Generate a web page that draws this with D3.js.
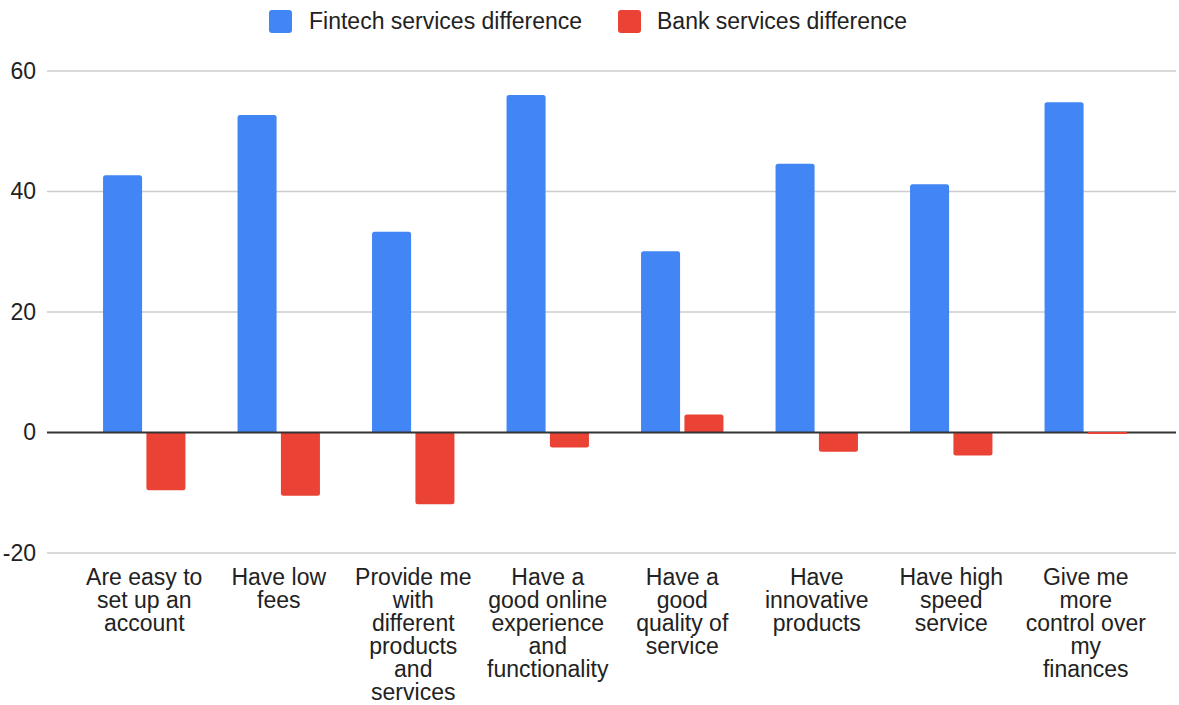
<!DOCTYPE html>
<html>
<head>
<meta charset="utf-8">
<script src="https://cdn.jsdelivr.net/npm/d3@7"></script>
<style>
  html, body { margin: 0; padding: 0; background: #ffffff; }
  svg { display: block; font-family: "Liberation Sans", Arial, Helvetica, sans-serif; }
</style>
</head>
<body>
<svg id="chart" width="1179" height="705"></svg>
<script>
// Survey categories and the two difference series
const categories = [
  "Are easy to set up an account",
  "Have low fees",
  "Provide me with different products and services",
  "Have a good online experience and functionality",
  "Have a good quality of service",
  "Have innovative products",
  "Have high speed service",
  "Give me more control over my finances"
];
const categoryLines = [
  ["Are easy to", "set up an", "account"],
  ["Have low", "fees"],
  ["Provide me", "with", "different", "products", "and", "services"],
  ["Have a", "good online", "experience", "and", "functionality"],
  ["Have a", "good", "quality of", "service"],
  ["Have", "innovative", "products"],
  ["Have high", "speed", "service"],
  ["Give me", "more", "control over", "my", "finances"]
];
const seriesNames = ["Fintech services difference", "Bank services difference"];
const fintechValues = [42.7, 52.7, 33.3, 56.0, 30.1, 44.6, 41.2, 54.8];
const bankValues = [-9.6, -10.5, -11.9, -2.5, 3.0, -3.2, -3.8, -0.2];
const yTicks = [-20, 0, 20, 40, 60];
const seriesColors = ["#4285f4", "#ea4335"];

const FONT = 23;
const svg = d3.select("#chart");
const plotLeft = 47, plotRight = 1176;

const y = d3.scaleLinear().domain([-20, 60]).range([553, 71]);

const x0 = d3.scaleBand().domain(categories).range([77, 1153]).padding(0);
const groupW = 82.4;
const x1 = d3.scaleBand().domain(seriesNames)
  .range([0, groupW]).paddingInner(0.1).paddingOuter(0);

// gridlines
svg.append("g").selectAll("line").data(yTicks.filter(t => t !== 0)).join("line")
  .attr("x1", plotLeft).attr("x2", plotRight)
  .attr("y1", d => y(d)).attr("y2", d => y(d))
  .attr("stroke", "#cccccc").attr("stroke-width", 1.3);

// y tick labels (plain hyphen for negatives)
const yAxis = d3.axisLeft(y).tickValues(yTicks).tickSize(0).tickPadding(0)
  .tickFormat(d => String(d));
const ya = svg.append("g").attr("transform", "translate(36,0)").call(yAxis);
ya.select(".domain").remove();
ya.selectAll("text")
  .attr("font-size", FONT).attr("fill", "#222222")
  .attr("font-family", "\"Liberation Sans\", Arial, sans-serif");

// bars with rounded far end
function barPath(xl, w, v) {
  const y0 = y(0), yv = y(v);
  const h = Math.abs(yv - y0);
  const r = Math.min(2.5, h / 2, w / 2);
  const s = v >= 0 ? 1 : -1;
  return `M${xl},${y0}V${yv + s * r}Q${xl},${yv} ${xl + r},${yv}H${xl + w - r}Q${xl + w},${yv} ${xl + w},${yv + s * r}V${y0}Z`;
}

const rows = categories.map((c, i) => ({ cat: c, vals: [fintechValues[i], bankValues[i]] }));
const groupX = d => x0(d.cat) + x0.bandwidth() / 2 - groupW / 2;
const isFlat = v => Math.abs(y(v) - y(0)) < 1.5;

const groups = svg.append("g").selectAll("g").data(rows).join("g")
  .attr("transform", d => `translate(${groupX(d)},0)`);

groups.selectAll("path").data(d => d.vals.map((v, k) => ({ v, k })).filter(e => !isFlat(e.v)))
  .join("path")
  .attr("d", d => barPath(x1(seriesNames[d.k]), x1.bandwidth(), d.v))
  .attr("fill", d => seriesColors[d.k]);

// baseline at zero
svg.append("line")
  .attr("x1", plotLeft).attr("x2", plotRight)
  .attr("y1", y(0)).attr("y2", y(0))
  .attr("stroke", "#333333").attr("stroke-width", 2);

// near-zero bars drawn as a thin strip over the baseline
const flat = [];
rows.forEach(r => r.vals.forEach((v, k) => { if (isFlat(v)) flat.push({ r, v, k }); }));
svg.append("g").selectAll("rect").data(flat).join("rect")
  .attr("x", d => groupX(d.r) + x1(seriesNames[d.k]))
  .attr("width", x1.bandwidth())
  .attr("y", d => Math.min(y(0), y(d.v)) - 0.5)
  .attr("height", d => Math.max(2, Math.abs(y(d.v) - y(0))))
  .attr("fill", d => seriesColors[d.k]);

// category labels
const labels = svg.append("g").selectAll("text").data(categories).join("text")
  .attr("text-anchor", "middle")
  .attr("font-size", FONT).attr("fill", "#222222")
  .attr("transform", d => `translate(${x0(d) + x0.bandwidth() / 2},585)`);
labels.selectAll("tspan").data((d, i) => categoryLines[i]).join("tspan")
  .attr("x", 0).attr("dy", (d, i) => i === 0 ? 0 : 23)
  .text(d => d);

// legend
const legendItems = [
  { name: seriesNames[0], color: seriesColors[0], sx: 269, tx: 309 },
  { name: seriesNames[1], color: seriesColors[1], sx: 618, tx: 657 }
];
const lg = svg.append("g");
lg.selectAll("rect").data(legendItems).join("rect")
  .attr("x", d => d.sx).attr("y", 10).attr("width", 23).attr("height", 23)
  .attr("rx", 3).attr("fill", d => d.color);
lg.selectAll("text").data(legendItems).join("text")
  .attr("x", d => d.tx).attr("y", 29)
  .attr("font-size", FONT).attr("fill", "#222222")
  .text(d => d.name);
</script>
</body>
</html>
